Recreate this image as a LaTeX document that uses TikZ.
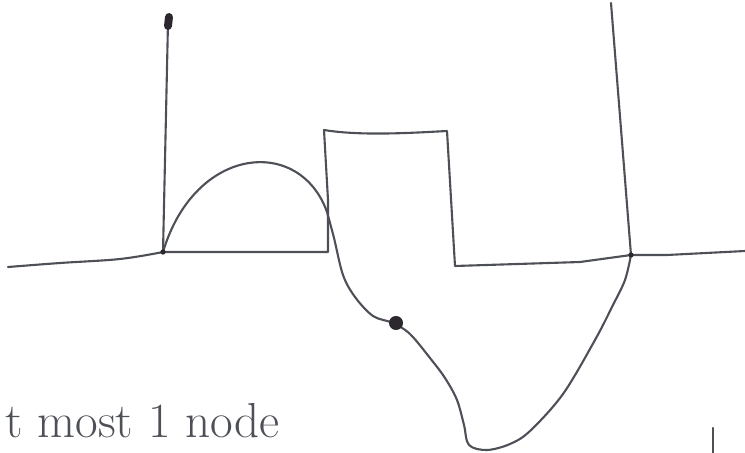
\documentclass[tikz,border=0pt]{standalone}
\usepackage{tikz}

\definecolor{PencilGrey}{RGB}{78,80,88}
\definecolor{InkDark}{RGB}{45,40,45}

\tikzset{
  pencil/.style={draw=PencilGrey, line width=1.2pt, line cap=round, line join=round},
  blob/.style={circle, fill=InkDark, inner sep=0pt, minimum size=6pt},
}

\begin{document}
\begin{tikzpicture}[x=0.02cm, y=-0.02cm]
                \useasboundingbox (0,0) rectangle (745,453);

                % Junctions
                \coordinate (farleft) at (8,267);
                \coordinate (root) at (163,252);
                \coordinate (roottop) at (168,22);
                \coordinate (stepin) at (328,252);
                \coordinate (boxtl) at (324,130);
                \coordinate (boxtr) at (447,131);
                \coordinate (boxbr) at (455,266);
                \coordinate (cross) at (631,255);
                \coordinate (crosstop) at (611,3);
                \coordinate (farright) at (745,251);
                \coordinate (arcend) at (327,212);

                % Ground line
                \draw[pencil] plot[smooth, tension=0.6] coordinates {(8,267) (60,263) (120,259) (163,252)};
                \draw[pencil] (root) -- (stepin) -- (328,200) -- (boxtl)
                  .. controls (360,136) and (410,133) .. (boxtr) -- (boxbr)
                  -- (580,262) -- (cross) -- (667,255) -- (farright);

                % Verticals
                \draw[pencil] (root) -- (roottop);
                \draw[pencil] (cross) -- (crosstop);

                % Curve
                \draw[pencil] (root) .. controls (195,145) and (300,136) .. (arcend);
                \draw[pencil] plot[smooth, tension=0.55] coordinates {
                  (327,212) (334,238) (343,275) (355,297)
                  (373,316) (393,323) (410,334) (430,358) (445,378) (457,400)
                  (464,425) (469,445) (487,450) (510,444) (530,431) (563,394)
                  (595,340) (613,305) (625,280) (631,255)};

                % Dots
                \draw[InkDark, line width=4.5pt, line cap=round] (169,17) -- (168,26);
                \node[blob, minimum size=8pt] (middot) at (396,323) {};
                \node[blob, minimum size=3pt] (rootdot) at (root) {};
                \node[blob, minimum size=3pt] (crossdot) at (cross) {};

                % Mark
                \coordinate (markbot) at (713,453);
                \draw[pencil] (713,428) -- (markbot);

                % Note
                \node[anchor=base west, text=PencilGrey, font=\fontsize{28}{32}\selectfont, inner sep=0pt] (note) at (5,437) {t most 1 node};
            \end{tikzpicture}
\end{document}
